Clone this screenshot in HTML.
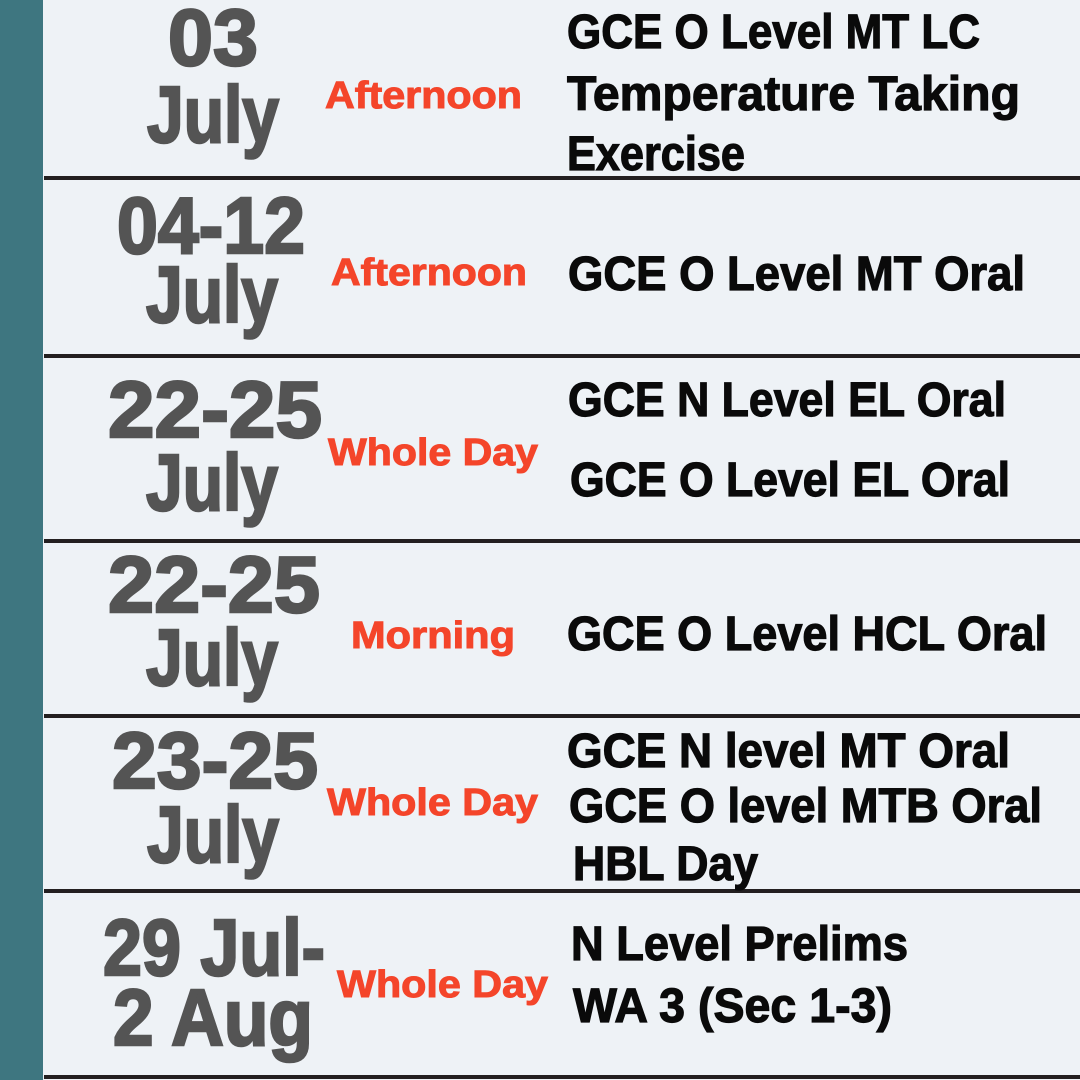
<!DOCTYPE html>
<html><head><meta charset="utf-8"><style>
html,body{margin:0;padding:0;background:#eef2f6;}
svg{display:block;}
.d{font-family:"Liberation Sans",sans-serif;font-weight:bold;font-size:80px;fill:#545454;stroke:#545454;stroke-width:2.5px;}
.t{font-family:"Liberation Sans",sans-serif;font-weight:bold;font-size:38px;fill:#f4452a;stroke:#f4452a;stroke-width:1px;}
.e{font-family:"Liberation Sans",sans-serif;font-weight:bold;font-size:48px;fill:#0a0a0a;stroke:#0a0a0a;stroke-width:1.2px;}
</style></head><body>
<svg width="1080" height="1080" viewBox="0 0 1080 1080">
<rect x="0" y="0" width="1080" height="1080" fill="#eef2f6"/>
<rect x="0" y="0" width="43" height="1080" fill="#3e7680"/>
<g fill="#231f20">
<rect x="44" y="176" width="1036" height="4"/>
<rect x="44" y="354" width="1036" height="4"/>
<rect x="44" y="539" width="1036" height="4"/>
<rect x="44" y="714" width="1036" height="4"/>
<rect x="44" y="889" width="1036" height="4"/>
<rect x="44" y="1075" width="1036" height="4"/>
</g>

<g>
<text class="d" x="168" y="65" textLength="90" lengthAdjust="spacingAndGlyphs">03</text>
<text class="d" x="147" y="142" textLength="132" lengthAdjust="spacingAndGlyphs">July</text>
<text class="t" x="325" y="108" textLength="197" lengthAdjust="spacingAndGlyphs">Afternoon</text>
<text class="e" x="567" y="48" textLength="413" lengthAdjust="spacingAndGlyphs">GCE O Level MT LC</text>
<text class="e" x="567" y="110" textLength="453" lengthAdjust="spacingAndGlyphs">Temperature Taking</text>
<text class="e" x="567" y="170" textLength="178" lengthAdjust="spacingAndGlyphs">Exercise</text>
</g>

<g>
<text class="d" x="117" y="253" textLength="188" lengthAdjust="spacingAndGlyphs">04-12</text>
<text class="d" x="146" y="322" textLength="132" lengthAdjust="spacingAndGlyphs">July</text>
<text class="t" x="331" y="285" textLength="196" lengthAdjust="spacingAndGlyphs">Afternoon</text>
<text class="e" x="568" y="290" textLength="457" lengthAdjust="spacingAndGlyphs">GCE O Level MT Oral</text>
</g>

<g>
<text class="d" x="108" y="437" textLength="214" lengthAdjust="spacingAndGlyphs">22-25</text>
<text class="d" x="146" y="510" textLength="132" lengthAdjust="spacingAndGlyphs">July</text>
<text class="t" x="328" y="465" textLength="210" lengthAdjust="spacingAndGlyphs">Whole Day</text>
<text class="e" x="568" y="416" textLength="438" lengthAdjust="spacingAndGlyphs">GCE N Level EL Oral</text>
<text class="e" x="570" y="496" textLength="440" lengthAdjust="spacingAndGlyphs">GCE O Level EL Oral</text>
</g>

<g>
<text class="d" x="108" y="612" textLength="212" lengthAdjust="spacingAndGlyphs">22-25</text>
<text class="d" x="146" y="685" textLength="132" lengthAdjust="spacingAndGlyphs">July</text>
<text class="t" x="351" y="648" textLength="164" lengthAdjust="spacingAndGlyphs">Morning</text>
<text class="e" x="567" y="650" textLength="480" lengthAdjust="spacingAndGlyphs">GCE O Level HCL Oral</text>
</g>

<g>
<text class="d" x="112" y="788" textLength="206" lengthAdjust="spacingAndGlyphs">23-25</text>
<text class="d" x="147" y="862" textLength="132" lengthAdjust="spacingAndGlyphs">July</text>
<text class="t" x="327" y="815" textLength="211" lengthAdjust="spacingAndGlyphs">Whole Day</text>
<text class="e" x="567" y="767" textLength="443" lengthAdjust="spacingAndGlyphs">GCE N level MT Oral</text>
<text class="e" x="569" y="822" textLength="473" lengthAdjust="spacingAndGlyphs">GCE O level MTB Oral</text>
<text class="e" x="573" y="880" textLength="185" lengthAdjust="spacingAndGlyphs">HBL Day</text>
</g>

<g>
<text class="d" x="103" y="975" textLength="222" lengthAdjust="spacingAndGlyphs">29 Jul-</text>
<text class="d" x="113" y="1045" textLength="200" lengthAdjust="spacingAndGlyphs">2 Aug</text>
<text class="t" x="337" y="997" textLength="211" lengthAdjust="spacingAndGlyphs">Whole Day</text>
<text class="e" x="571" y="960" textLength="337" lengthAdjust="spacingAndGlyphs">N Level Prelims</text>
<text class="e" x="573" y="1022" textLength="319" lengthAdjust="spacingAndGlyphs">WA 3 (Sec 1-3)</text>
</g>
</svg>
</body></html>
